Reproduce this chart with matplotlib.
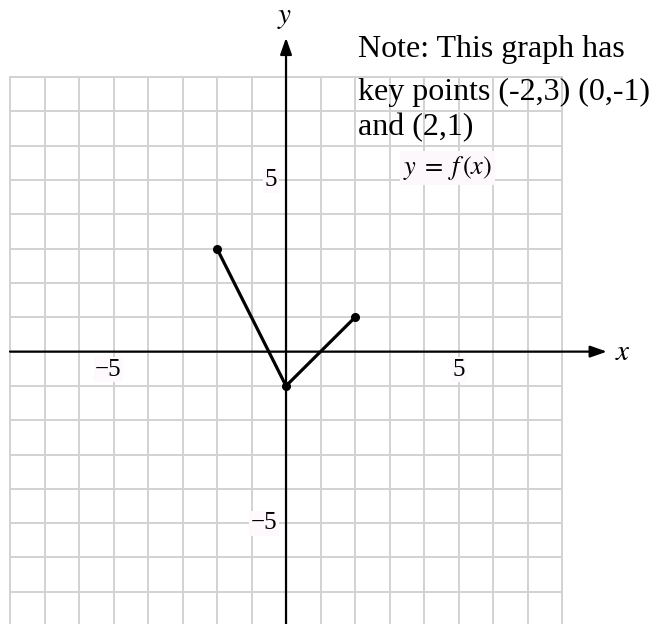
import matplotlib
matplotlib.use("Agg")
import matplotlib.pyplot as plt

# ---- data ----
key_x = [-2, 0, 2]
key_y = [3, -1, 1]
grid_min, grid_max = -8, 8
x_tick_vals = [-5, 5]
y_tick_vals = [5, -5]
note_lines = ["Note: This graph has", "key points (-2,3) (0,-1)", "and (2,1)"]
func_label = r"$y\;=\;f\,(x)$"

plt.rcParams['mathtext.fontset'] = 'stix'

fig = plt.figure(figsize=(6.59, 6.24), dpi=100)
ax = fig.add_axes([0, 0, 1, 1])
ax.set_xlim(-8.29, 10.81)
ax.set_ylim(-7.94, 10.25)
ax.axis('off')

grid_col = '#d2d2d2'
for v in range(grid_min, grid_max + 1):
    ax.plot([v, v], [grid_min, grid_max], color=grid_col, lw=1.4, zorder=1)
    ax.plot([grid_min, grid_max], [v, v], color=grid_col, lw=1.4, zorder=1)

# axes with arrows
ax.annotate('', xy=(9.3, 0), xytext=(grid_min, 0),
            arrowprops=dict(arrowstyle='-|>,head_length=1.0,head_width=0.35', lw=1.6,
                            color='black', shrinkA=0, shrinkB=0), zorder=3)
ax.annotate('', xy=(0, 9.15), xytext=(0, grid_min - 0.5),
            arrowprops=dict(arrowstyle='-|>,head_length=1.0,head_width=0.35', lw=1.6,
                            color='black', shrinkA=0, shrinkB=0), zorder=3)
ax.text(9.75, 0, r'$x$', fontsize=21, ha='center', va='center')
ax.text(-0.05, 9.75, r'$y$', fontsize=21, ha='center', va='center')

bbox_style = dict(facecolor='#fdf9fd', edgecolor='none', pad=1)
for v in x_tick_vals:
    lab = '\u2212%d' % abs(v) if v < 0 else '%d' % v
    off = -0.15 if v < 0 else 0.0
    ax.text(v + off, -0.53, lab, fontsize=18, family='Liberation Serif',
            ha='center', va='center', bbox=bbox_style, zorder=4)
for v in y_tick_vals:
    lab = '\u2212%d' % abs(v) if v < 0 else '%d' % v
    ax.text(-0.25, v, lab, fontsize=18, family='Liberation Serif',
            ha='right', va='center', bbox=bbox_style, zorder=4)

# function
ax.plot(key_x, key_y, color='black', lw=2.3, zorder=5, solid_capstyle='round')
ax.plot([key_x[0], key_x[-1]], [key_y[0], key_y[-1]], 'o', color='black', ms=5.5, zorder=6)
ax.plot([key_x[1]], [key_y[1]], 'o', color='black', ms=5.5, zorder=6)

# note
note_y = [8.8, 7.55, 6.52]
for line, yy in zip(note_lines, note_y):
    ax.text(2.1, yy, line, fontsize=23, family='Liberation Serif',
            ha='left', va='center', zorder=7)

ax.text(4.67, 5.35, func_label, fontsize=19, ha='center', va='center',
        bbox=dict(facecolor='#fcf8fc', edgecolor='none', pad=2), zorder=7)

fig.savefig('out.png', dpi=100)
